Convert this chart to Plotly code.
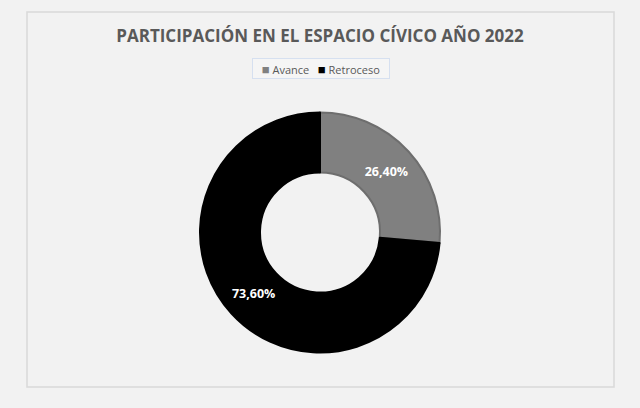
import plotly.graph_objects as go

# Data
labels = ['Avance', 'Retroceso']
values = [26.4, 73.6]
slice_colors = ['#808080', '#000000']
edge_colors = ['#6e6e6e', '#000000']

fig = go.Figure()

fig.add_trace(
    go.Pie(
        labels=labels,
        values=values,
        hole=0.5,
        sort=False,
        direction='clockwise',
        rotation=0,
        marker=dict(colors=slice_colors, line=dict(color=edge_colors, width=2)),
        texttemplate='%{percent:.2%}',
        textposition='inside',
        insidetextorientation='horizontal',
        textfont=dict(family='Open Sans', size=12.5, color='white', weight='bold'),
        domain=dict(x=[0.2947, 0.7036], y=[0.092, 0.732]),
        hoverinfo='label+percent',
        showlegend=False,
    )
)

# Chart border (Excel-like chart area frame)
fig.add_shape(
    type='rect', xref='paper', yref='paper',
    x0=0, x1=1, y0=0, y1=1,
    line=dict(color='#d9d9d9', width=1.5),
    layer='below',
)

# Compact Excel-style legend: small swatch right next to each label
legend_text = '&nbsp;&nbsp;&nbsp;'.join(
    f'<span style="color:{c};font-size:13px">■</span> {l}'
    for l, c in zip(labels, slice_colors)
)
fig.add_annotation(
    text=legend_text,
    xref='paper', yref='paper',
    x=0.5, y=(387 - 68.5) / 375,
    xanchor='center', yanchor='middle',
    showarrow=False,
    width=136, height=19,
    bgcolor='#f5f5f5',
    bordercolor='#d6e0f0',
    borderwidth=1,
    borderpad=0,
    font=dict(family='Open Sans', size=11, color='#595959'),
)

fig.update_layout(
    width=640,
    height=408,
    separators=',.',
    paper_bgcolor='#f2f2f2',
    plot_bgcolor='#f2f2f2',
    margin=dict(l=27, r=26, t=12, b=21),
    title=dict(
        text='PARTICIPACIÓN EN EL ESPACIO CÍVICO AÑO 2022',
        x=0.5, xanchor='center',
        y=1 - 36 / 408, yanchor='middle',
        font=dict(family='Open Sans', size=17, color='#595959', weight='bold'),
    ),
)

# drop the default page margin so the figure sits at the window origin
fig.write_html(
    'out.html',
    config={'displayModeBar': False},
    post_script="document.body.style.margin='0';",
)
